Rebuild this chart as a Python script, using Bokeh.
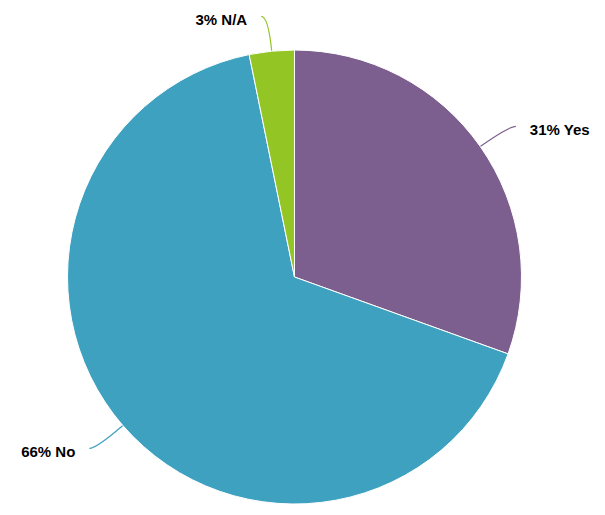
import math
from bokeh.plotting import figure
from bokeh.models import Range1d, ColumnDataSource
from bokeh.core.properties import value
from bokeh.embed import file_html
from bokeh.resources import INLINE

# ---- data ----
categories = ["Yes", "No", "N/A"]
values = [30.5, 66.3, 3.2]
labels = ["31% Yes", "66% No", "3% N/A"]
colors = ["#7c5f8e", "#3ea1c0", "#93c524"]

# ---- layout (page pixel space, y measured from top) ----
W, H = 597, 507
OFF = 0
CX, CY, R = 294, 276.5, 227
CONN_LEN = 35
CONN_HOR = 7
GAP = 14


def fy(img_y):
    return 515 - img_y


p = figure(width=W, height=H, output_backend="svg", toolbar_location=None,
           x_range=Range1d(OFF, OFF + W), y_range=Range1d(515 - OFF - H, 515 - OFF),
           min_border=0)
p.axis.visible = False
p.grid.visible = False
p.outline_line_color = None
p.background_fill_color = "white"
p.border_fill_color = "white"

total = sum(values)
cum = 0.0
starts, ends = [], []
for i, v in enumerate(values):
    a1 = cum / total * 360.0          # clockwise from top
    a2 = (cum + v) / total * 360.0
    cum += v
    starts.append(math.radians(90 - a2))
    ends.append(math.radians(90 - a1))

    mid = math.radians((a1 + a2) / 2)
    dx, dy = math.sin(mid), -math.cos(mid)   # image-space direction
    px, py = CX + R * dx, CY + R * dy
    cx_, cy_ = px + CONN_LEN * dx, py + CONN_LEN * dy
    side = 1 if dx >= 0 else -1
    ex, ey = cx_ + side * CONN_HOR, cy_
    p.quadratic(x0=[px], y0=[fy(py)], x1=[ex], y1=[fy(ey)], cx=[cx_], cy=[fy(cy_)],
                line_color=colors[i], line_width=1.2)
    p.text(x=[ex + side * GAP], y=[fy(ey + 3.5)], text=[labels[i]],
           text_align="left" if side > 0 else "right", text_baseline="alphabetic",
           text_font=value("Liberation Sans"), text_font_style="bold",
           text_font_size="15px", text_color="#000000")

src = ColumnDataSource(dict(start=starts, end=ends, color=colors, cat=categories))
p.wedge(x=CX, y=fy(CY), radius=R, start_angle="start", end_angle="end",
        color="color", line_color="white", line_width=1, source=src)

html = file_html(p, INLINE)
open("out.html", "w").write(html)
